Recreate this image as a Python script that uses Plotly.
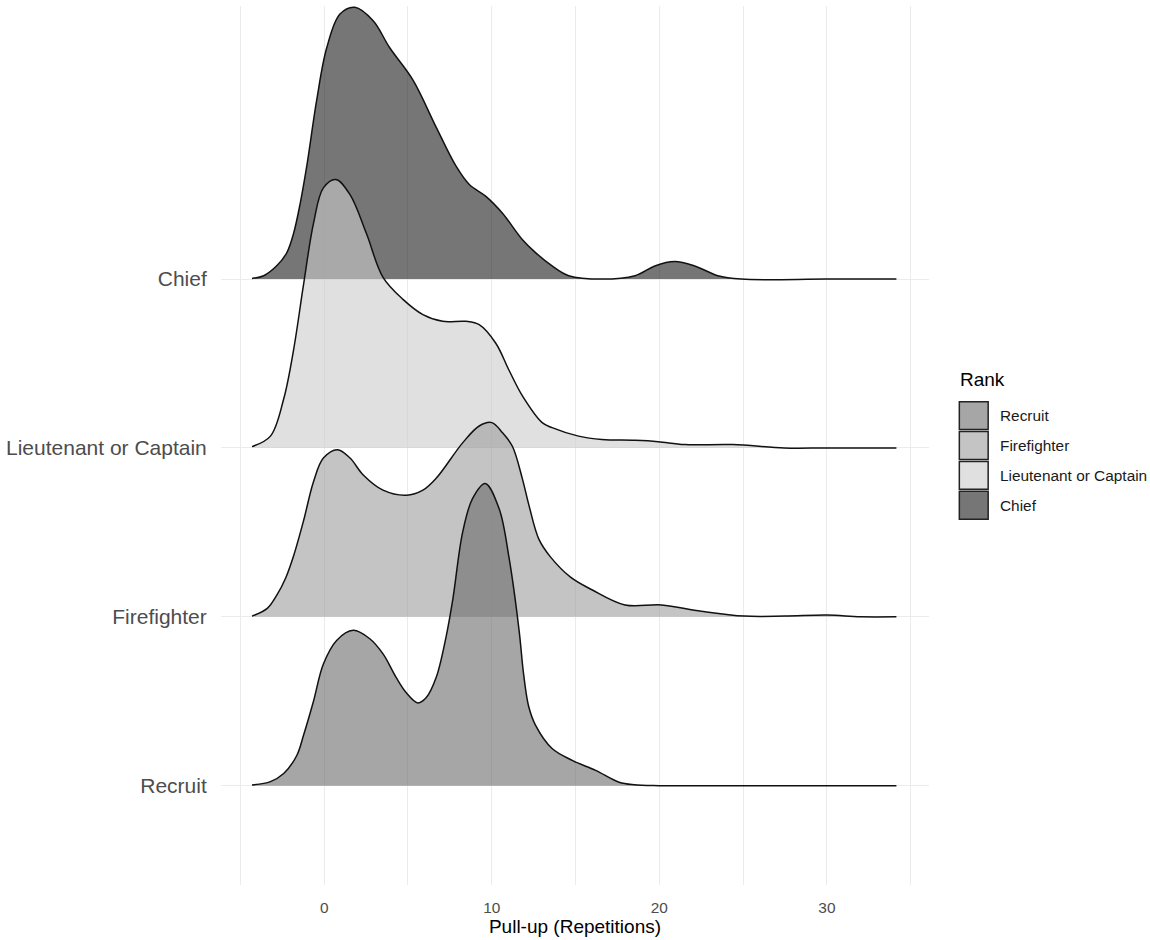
import plotly.graph_objects as go

# ---------------- data ----------------
ranks = ["Recruit", "Firefighter", "Lieutenant or Captain", "Chief"]
rank_pos = [1, 2, 3, 4]

recruit_x = [-4.31, -3.21, -2.42, -1.63, -1.23, -0.64, -0.05, 0.74, 1.73, 2.72, 3.51,
             4.30, 4.90, 5.59, 6.08, 6.68, 7.27, 7.67, 8.26, 8.85, 9.61, 10.44, 11.03,
             11.63, 11.9, 12.2, 12.6, 13.6, 14.8, 16.2, 17.6, 18.5, 20.0, 25.0, 30.0, 34.15]
recruit_h = [0.004, 0.024, 0.072, 0.18, 0.30, 0.50, 0.72, 0.86, 0.92, 0.87, 0.78,
             0.64, 0.55, 0.49, 0.52, 0.64, 0.88, 1.10, 1.50, 1.70, 1.79, 1.64, 1.35,
             0.92, 0.66, 0.47, 0.36, 0.22, 0.15, 0.09, 0.02, 0.005, 0.0, 0.0, 0.0, 0.0]

firefighter_x = [-4.31, -3.4, -2.82, -2.3, -1.83, -1.23, -0.64, -0.05, 0.80, 1.54, 2.33, 3.51,
                 4.90, 5.89, 6.68, 8.26, 9.25, 10.0, 10.64, 11.23, 11.82, 12.22, 12.81, 13.5,
                 14.7, 15.98, 17.95, 20.13, 22.5, 25.07, 27.5, 30.02, 32.0, 34.15]
firefighter_h = [0.004, 0.05, 0.13, 0.23, 0.36, 0.57, 0.80, 0.94, 0.99, 0.94, 0.84, 0.75,
                 0.72, 0.75, 0.82, 1.03, 1.13, 1.15, 1.09, 1.01, 0.82, 0.66, 0.46, 0.355,
                 0.235, 0.16, 0.07, 0.07, 0.033, 0.004, 0.004, 0.01, 0.0, 0.0]

lieutenant_x = [-4.31, -3.21, -2.42, -1.83, -1.23, -0.64, -0.05, 0.70, 1.54, 2.52, 3.51,
                4.70, 5.89, 7.07, 8.46, 9.25, 10.24, 11.03, 11.82, 13.01, 13.6, 15.18,
                16.57, 18.55, 19.93, 21.51, 24.39, 27.45, 30.0, 34.15]
lieutenant_h = [0.008, 0.07, 0.29, 0.58, 0.97, 1.33, 1.54, 1.59, 1.50, 1.27, 1.01,
                0.88, 0.79, 0.75, 0.75, 0.73, 0.62, 0.46, 0.31, 0.15, 0.12, 0.07,
                0.05, 0.045, 0.037, 0.02, 0.02, 0.0, 0.0, 0.0]

chief_x = [-4.31, -3.61, -2.82, -2.23, -1.83, -1.43, -1.04, -0.45, 0.15, 0.94, 1.83, 2.92,
           3.91, 5.29, 6.68, 7.86, 8.66, 9.65, 10.64, 11.82, 12.61, 13.60, 14.59, 16.57,
           18.55, 19.73, 20.92, 22.11, 23.49, 24.88, 30.0, 34.15]
chief_h = [0.004, 0.02, 0.08, 0.157, 0.27, 0.45, 0.67, 1.06, 1.37, 1.57, 1.61, 1.53,
           1.37, 1.18, 0.90, 0.67, 0.56, 0.49, 0.39, 0.235, 0.157, 0.078, 0.02, 0.0,
           0.02, 0.078, 0.104, 0.078, 0.02, 0.0, 0.0, 0.0]

x_tick_vals = [0, 10, 20, 30]
x_tick_text = ["0", "10", "20", "30"]
x_minor_vals = [-5, 5, 15, 25, 35]

# ---------------- styling ----------------
ALPHA = 0.6
base_grey = {"Recruit": 107, "Firefighter": 157, "Lieutenant or Captain": 203, "Chief": 27}
series = {
    "Recruit": (recruit_x, recruit_h),
    "Firefighter": (firefighter_x, firefighter_h),
    "Lieutenant or Captain": (lieutenant_x, lieutenant_h),
    "Chief": (chief_x, chief_h),
}
FONT = "Liberation Sans, Arial, Helvetica, sans-serif"
GRID = "#EBEBEB"

fig = go.Figure()

# draw top ridge first so lower ridges overlap it
for name, pos in sorted(zip(ranks, rank_pos), key=lambda t: -t[1]):
    xs, hs = series[name]
    g = base_grey[name]
    fill = f"rgba({g},{g},{g},{ALPHA})"
    fig.add_trace(go.Scatter(x=[xs[0], xs[-1]], y=[pos, pos], mode="lines",
                             line=dict(width=0, color="rgba(0,0,0,0)"),
                             showlegend=False, hoverinfo="skip"))
    fig.add_trace(go.Scatter(x=xs, y=[pos + h for h in hs], mode="lines",
                             fill="tonexty", fillcolor=fill,
                             line=dict(color="#111111", width=1.5, shape="spline", smoothing=1.0),
                             name=name, showlegend=False))

# ---------------- layout ----------------
L, R, T, B = 217, 929, 6, 888
W, H = 1150, 940

def pxx(px):
    return (px - L) / (R - L)

def pyy(py):
    return (B - py) / (B - T)

shapes = []
annotations = []
annotations.append(dict(x=pxx(958), y=pyy(381), xref="paper", yref="paper", text="Rank",
                        showarrow=False, xanchor="left", yanchor="middle",
                        font=dict(family=FONT, size=19, color="#000000")))
for i, name in enumerate(ranks):
    top = 402 + 30 * i
    g = base_grey[name]
    c = round(ALPHA * g + (1 - ALPHA) * 255)
    shapes.append(dict(type="rect", xref="paper", yref="paper",
                       x0=pxx(959.5), x1=pxx(988.5), y0=pyy(top + 1), y1=pyy(top + 29),
                       fillcolor=f"rgb({c},{c},{c})", line=dict(color="#222222", width=1.5)))
    annotations.append(dict(x=pxx(998), y=pyy(top + 15), xref="paper", yref="paper",
                            text=name, showarrow=False, xanchor="left", yanchor="middle",
                            font=dict(family=FONT, size=15.4, color="#1A1A1A")))

y_lo = 1 - (B - 788.3) / 169.4
y_hi = 4 + (280 - T) / 169.4
x_lo = (L - 320.8) / 16.85
x_hi = (R - 320.8) / 16.85

fig.update_layout(
    width=W, height=H,
    margin=dict(l=L, r=W - R, t=T, b=H - B),
    paper_bgcolor="white", plot_bgcolor="white",
    font=dict(family=FONT),
    showlegend=False,
    shapes=shapes, annotations=annotations,
    xaxis=dict(range=[x_lo, x_hi], tickvals=x_tick_vals, ticktext=x_tick_text,
               showgrid=True, gridcolor=GRID, gridwidth=1.3, zeroline=False, showline=False,
               ticks="outside", ticklen=9, tickcolor="rgba(0,0,0,0)",
               tickfont=dict(family=FONT, size=15.4, color="#4D4D4D"),
               minor=dict(tickvals=x_minor_vals, showgrid=True, gridcolor=GRID, gridwidth=1),
               title=dict(text="Pull-up (Repetitions)", standoff=4,
                          font=dict(family=FONT, size=19, color="#000000"))),
    yaxis=dict(range=[y_lo, y_hi], tickvals=rank_pos, ticktext=ranks,
               showgrid=True, gridcolor=GRID, gridwidth=1.3, zeroline=False, showline=False,
               ticks="outside", ticklen=9, tickcolor="rgba(0,0,0,0)",
               tickfont=dict(family=FONT, size=21, color="#4D4D4D")),
)

fig.write_html("out.html",
               config={"displayModeBar": False},
               post_script="document.body.style.margin='0';document.body.style.overflow='hidden';")
